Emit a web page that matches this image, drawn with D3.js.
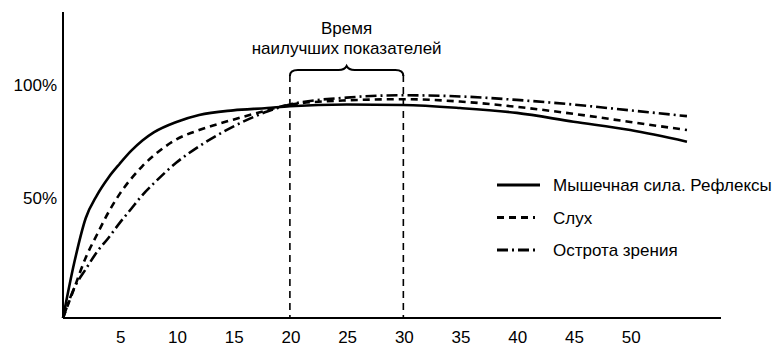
<!DOCTYPE html>
<html>
<head>
<meta charset="utf-8">
<script src="https://cdn.jsdelivr.net/npm/d3@7"></script>
<style>
  body { margin: 0; background: #fff; }
  text { font-family: 'Liberation Sans', Arial, sans-serif; fill: #000; }
</style>
</head>
<body>
<div id="chart"></div>
<script>
// age in years
const ages = [0, 1, 2, 3, 4, 5, 6, 7, 8, 10, 12, 15, 18, 20, 25, 30, 35, 40, 45, 50, 55];
// percent of max
const muscle = [0, 24, 43, 53, 60.5, 66.5, 72, 76.5, 80, 84.5, 87.5, 89.5, 90.5, 91.3, 92, 91.8, 90.5, 88.4, 84.6, 81, 76];
const hearing = [0, 13, 26, 36, 45.5, 53.5, 60, 65.5, 70, 77, 81, 85.5, 89.5, 92, 93.8, 94.3, 93.3, 91, 88, 84.5, 81];
const vision = [0, 13, 21, 28.5, 34.5, 41, 47, 53, 58, 67, 74, 82.5, 89, 92, 95, 96, 95.5, 94, 92, 89.5, 87];

const seriesNames = ['Мышечная сила. Рефлексы', 'Слух', 'Острота зрения'];
const xTicks = [5, 10, 15, 20, 25, 30, 35, 40, 45, 50];
const yTicks = [50, 100];
const bestRange = [20, 30];
const bestLabel = ['Время', 'наилучших показателей'];

const width = 782;
const height = 353;

const x = d3.scaleLinear().domain([0, 58]).range([63, 721]);
const y = d3.scaleLinear().domain([0, 100]).range([318, 86]);

const svg = d3
  .select('#chart')
  .append('svg')
  .attr('width', width)
  .attr('height', height);

const styles = [
  { dash: null },
  { dash: '7,5' },
  { dash: '11,4,2,4' },
];

const series = [muscle, hearing, vision].map((vals, i) => ({
  name: seriesNames[i],
  values: vals.map((v, j) => ({ age: ages[j], v })),
  dash: styles[i].dash,
}));

// best-time dashed verticals
svg
  .selectAll('.best')
  .data(bestRange)
  .join('line')
  .attr('class', 'best')
  .attr('x1', (d) => x(d))
  .attr('x2', (d) => x(d))
  .attr('y1', 75)
  .attr('y2', y(0))
  .attr('stroke', '#000')
  .attr('stroke-width', 1.6)
  .attr('stroke-dasharray', '7,5');

// brace
const bx0 = x(bestRange[0]);
const bx1 = x(bestRange[1]);
const bm = (bx0 + bx1) / 2;
const by = 70;
svg
  .append('path')
  .attr(
    'd',
    `M${bx0},${by + 6} Q${bx0},${by} ${bx0 + 8},${by} L${bm - 8},${by} Q${bm - 2},${by} ${bm},${by - 4}` +
      ` Q${bm + 2},${by} ${bm + 8},${by} L${bx1 - 8},${by} Q${bx1},${by} ${bx1},${by + 6}`,
  )
  .attr('fill', 'none')
  .attr('stroke', '#000')
  .attr('stroke-width', 2);

svg
  .selectAll('.best-label')
  .data(bestLabel)
  .join('text')
  .attr('class', 'best-label')
  .attr('x', bm)
  .attr('y', (d, i) => 34 + i * 20)
  .attr('text-anchor', 'middle')
  .attr('font-size', '17px')
  .text((d) => d);

// axes
svg
  .append('line')
  .attr('x1', x(0))
  .attr('x2', x(0))
  .attr('y1', 12)
  .attr('y2', y(0))
  .attr('stroke', '#000')
  .attr('stroke-width', 2);

svg
  .append('line')
  .attr('x1', x(0))
  .attr('x2', x(58))
  .attr('y1', y(0))
  .attr('y2', y(0))
  .attr('stroke', '#000')
  .attr('stroke-width', 2);

svg
  .selectAll('.xtick')
  .data(xTicks)
  .join('text')
  .attr('class', 'xtick')
  .attr('x', (d) => x(d) + 1)
  .attr('y', 343)
  .attr('text-anchor', 'middle')
  .attr('font-size', '17px')
  .text((d) => d);

svg
  .selectAll('.ytick')
  .data(yTicks)
  .join('text')
  .attr('class', 'ytick')
  .attr('x', 57)
  .attr('y', (d) => y(d) + 5 + (d === 50 ? -3 : 0))
  .attr('text-anchor', 'end')
  .attr('font-size', '17px')
  .text((d) => `${d}%`);

// curves
const line = d3
  .line()
  .x((d) => x(d.age))
  .y((d) => y(d.v))
  .curve(d3.curveMonotoneX);

svg
  .selectAll('.series')
  .data(series)
  .join('path')
  .attr('class', 'series')
  .attr('d', (d) => line(d.values))
  .attr('fill', 'none')
  .attr('stroke', '#000')
  .attr('stroke-width', 2.6)
  .attr('stroke-dasharray', (d) => d.dash);

// legend
const legend = svg
  .selectAll('.legend')
  .data(series)
  .join('g')
  .attr('class', 'legend')
  .attr('transform', (d, i) => `translate(497, ${185 + i * 32.5})`);

legend
  .append('line')
  .attr('x1', 0)
  .attr('x2', (d, i) => (i === 0 ? 43 : 38))
  .attr('stroke', '#000')
  .attr('stroke-width', 2.8)
  .attr('stroke-dasharray', (d) => d.dash);

legend
  .append('text')
  .attr('x', 56)
  .attr('y', 6)
  .attr('font-size', '17px')
  .text((d) => d.name);
</script>
</body>
</html>
